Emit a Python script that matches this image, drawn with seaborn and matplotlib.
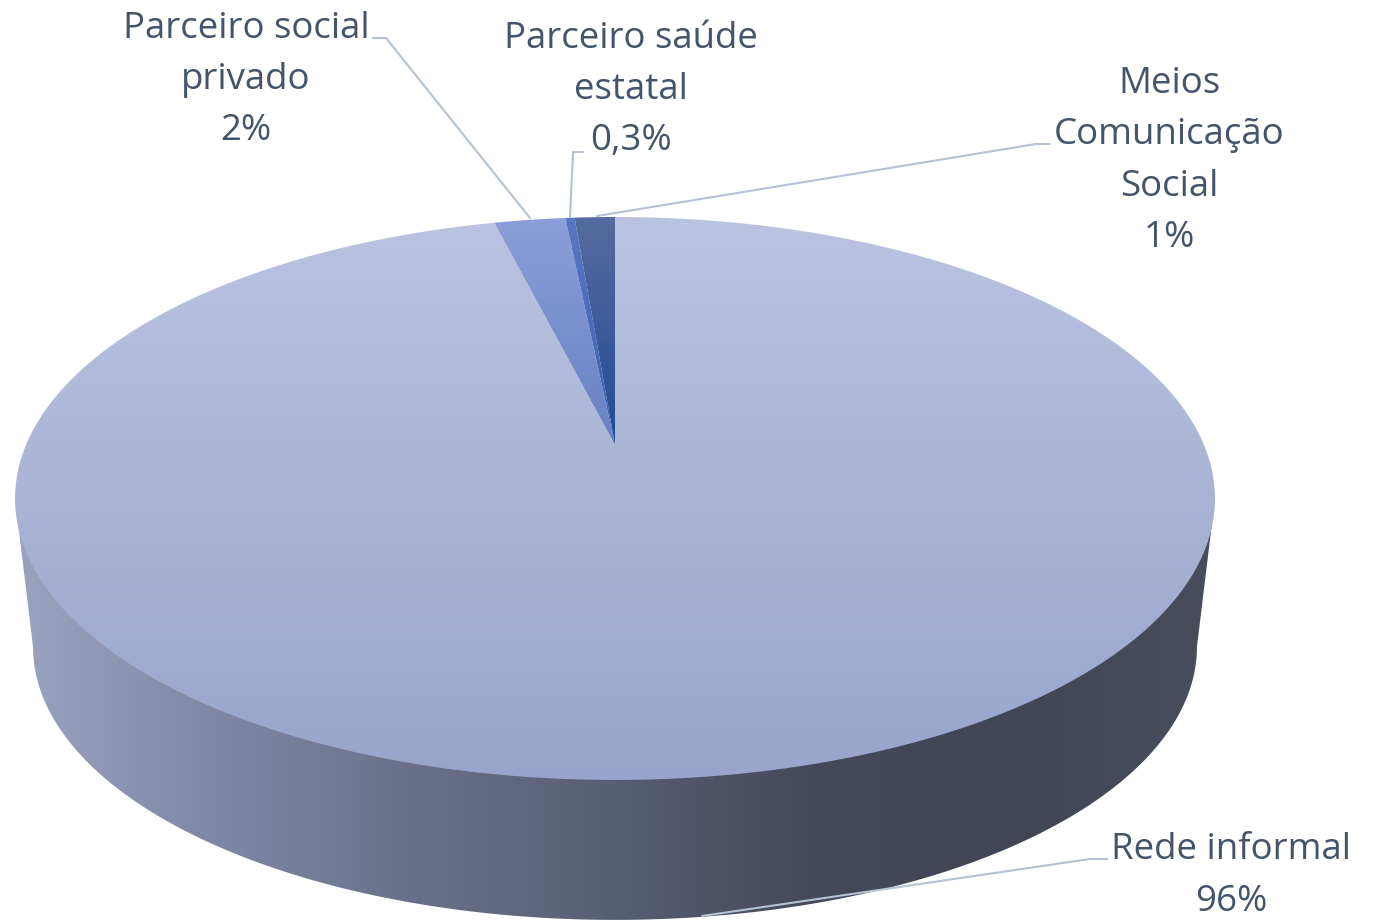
import numpy as np
import matplotlib
matplotlib.use('Agg')
import matplotlib.pyplot as plt
from matplotlib.patches import Polygon
import seaborn as sns

# Data
categories = ['Rede informal', 'Parceiro social\nprivado', 'Parceiro saúde\nestatal', 'Meios\nComunicação\nSocial']
shares = [96.1, 2.3, 0.3, 1.3]
share_labels = ['96%', '2%', '0,3%', '1%']

sns.set_theme(style='white')
plt.rcParams['font.family'] = ['Open Sans', 'DejaVu Sans']

TEXT = '#44546A'
LEADER = '#B4C2D4'

# Disc geometry in picture pixels, with a simple perspective
CX = 615
TOP_Y0 = 445
BOTTOM_Y0 = 595
BOTTOM_SCALE = 0.97
A = 589
B = 271.3
K = 0.19


def disc(theta, y0=TOP_Y0, scale=1.0):
    # theta in degrees, clockwise from 12 o'clock
    t = np.radians(theta)
    u, v = np.sin(t), np.cos(t)
    s = 1 / (1 + K * v)
    return CX + A * scale * u * s, y0 - B * scale * v * s


def gradient(ax, patch, colors, extent, horizontal=False):
    cmap = sns.blend_palette(colors, as_cmap=True)
    g = np.linspace(0, 1, 512)
    g = g.reshape(1, -1) if horizontal else g.reshape(-1, 1)
    ax.add_patch(patch)
    im = ax.imshow(g, cmap=cmap, extent=extent, origin='upper', aspect='auto',
                   interpolation='bilinear', zorder=patch.get_zorder())
    im.set_clip_path(patch)


fig, ax = plt.subplots(figsize=(13.84, 9.21), dpi=100)
ax.set_position([0, 0, 1, 1])

# Side wall
thetas = np.linspace(0, 360, 1441)
tx, ty = disc(thetas)
bx, by = disc(thetas, BOTTOM_Y0, BOTTOM_SCALE)
right_i, left_i = np.argmax(bx), np.argmin(bx)
wall = np.vstack([
    [tx[np.argmin(tx)], ty[np.argmin(tx)]],
    [tx[np.argmax(tx)], ty[np.argmax(tx)]],
    np.column_stack([bx[right_i:left_i + 1], by[right_i:left_i + 1]]),
])
wall_patch = Polygon(wall, closed=True, fc='none', ec='none', zorder=1)
gradient(ax, wall_patch,
         ['#9AA3C0', '#7F87A5', '#6A7089', '#585E73', '#444859', '#414555', '#484D5C'],
         [15, 1215, 925, 370], horizontal=True)

# Top face, one piece per category
edges = np.cumsum([0] + shares) / sum(shares) * 360
face_colors = [
    ['#BAC3E0', '#98A4CB'],
    ['#8B9ED8', '#6681C2'],
    ['#5A78C4', '#3560AE'],
    ['#566C9F', '#214A93'],
]
for i in range(len(shares)):
    th = np.linspace(edges[i], edges[i + 1], max(int(edges[i + 1] - edges[i]) * 4, 8))
    px, py = disc(th)
    pts = np.vstack([[CX, TOP_Y0], np.column_stack([px, py])])
    patch = Polygon(pts, closed=True, fc='none', ec='none', zorder=2 + i)
    extent = [0, 1384, 785, 215] if i == 0 else [0, 1384, 447, 215]
    gradient(ax, patch, face_colors[i], extent)

# Labels
label_pos = [(1231, 876), (246, 80), (631, 90), (1169, 161)]
for name, pct, (x, y) in zip(categories, share_labels, label_pos):
    ax.text(x, y, name + '\n' + pct, ha='center', va='center', fontsize=26.4,
            color=TEXT, linespacing=1.57, zorder=10)

# Leader lines
leaders = [
    ([1107, 1090, 702], [859, 859, 916]),
    ([373, 386, 530], [38, 38, 218]),
    ([583, 573, 570], [152, 152, 217]),
    ([1050, 1036, 597], [144, 144, 216]),
]
for lx, ly in leaders:
    ax.plot(lx, ly, color=LEADER, lw=1.5, zorder=9)

ax.set_xlim(0, 1384)
ax.set_ylim(921, 0)
ax.axis('off')

fig.savefig('out.png', dpi=100, facecolor='white')
